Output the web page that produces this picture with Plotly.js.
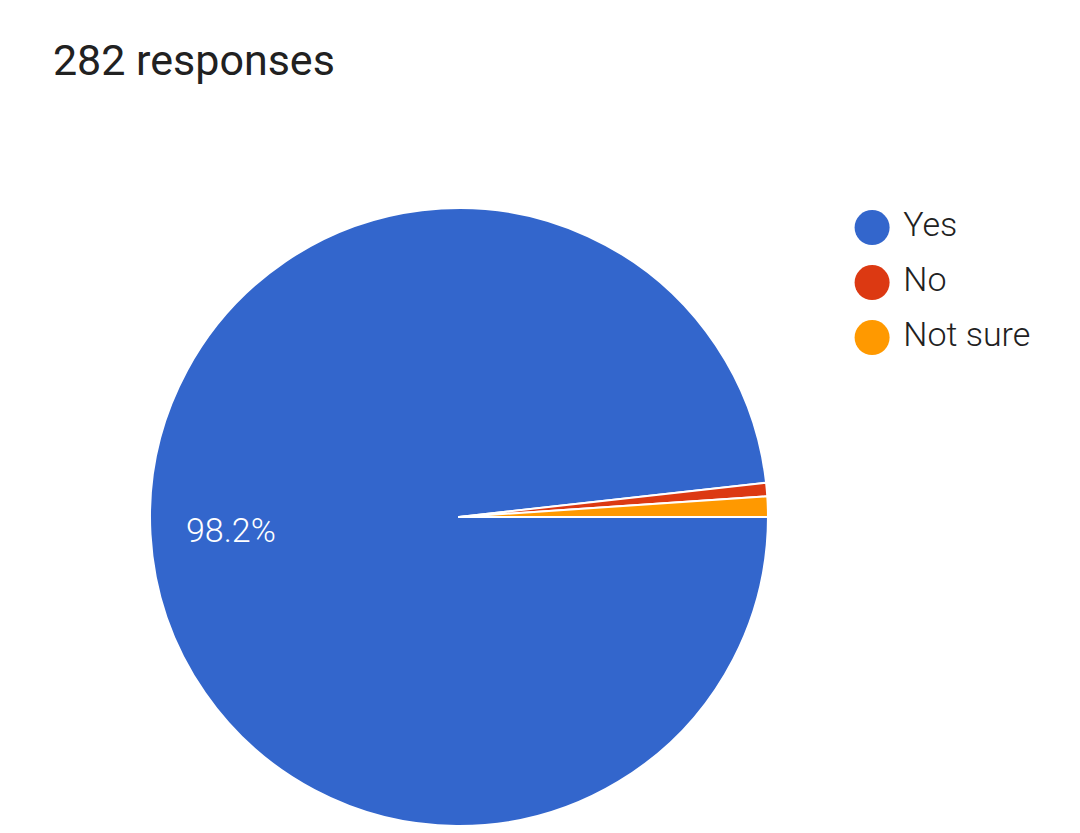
<!DOCTYPE html>
<html><head><meta charset="utf-8">
<script src="https://cdn.plot.ly/plotly-3.0.1.min.js"></script>
<style>html,body{margin:0;padding:0;background:#fff;}#chart{width:1080px;height:833px;}</style>
</head><body><div id="chart"></div>
<script>
const categories = ["Yes", "No", "Not sure"];
const counts = [277, 2, 3];
const colors = ["#3366cc", "#dc3912", "#ff9900"];
const titleText = "282 responses";

const total = counts.reduce((a, b) => a + b, 0);
const yesLabel = (counts[0] / total * 100).toFixed(1) + "%";

const pie = {
  type: "pie",
  labels: categories,
  values: counts,
  sort: false,
  direction: "clockwise",
  rotation: 90,
  marker: {colors: colors, line: {color: "#ffffff", width: 2}},
  textinfo: "none",
  domain: {x: [0.1389, 0.7111], y: [0.0072, 0.7515]},
  showlegend: false,
  hoverinfo: "label+percent"
};

const legendTrace = {
  type: "scatter",
  mode: "markers+text",
  x: categories.map(() => 0),
  y: categories.map((c, i) => categories.length - 1 - i),
  text: categories.map(c => " " + c),
  textposition: "middle right",
  textfont: {family: "Roboto", size: 34, color: "#212121", weight: 300},
  marker: {size: 35, color: colors, symbol: "circle"},
  cliponaxis: false,
  showlegend: false,
  hoverinfo: "skip",
  xaxis: "x", yaxis: "y"
};

const layout = {
  width: 1080, height: 833,
  margin: {l: 0, r: 0, t: 0, b: 0},
  paper_bgcolor: "#ffffff", plot_bgcolor: "rgba(0,0,0,0)",
  font: {family: "Roboto", color: "#212121"},
  title: {text: titleText, x: 0.049, xanchor: "left", y: 0.928, yanchor: "middle",
          font: {family: "Roboto", size: 43, color: "#212121", weight: 400}},
  showlegend: false,
  xaxis: {domain: [0.78, 1], range: [-0.125, 0.875], visible: false, fixedrange: true},
  yaxis: {domain: [0.5618, 0.7599], range: [-0.5, 2.5], visible: false, fixedrange: true},
  annotations: [{
    text: yesLabel, xref: "paper", yref: "paper", x: 0.2139, y: 0.3637,
    xanchor: "center", yanchor: "middle", showarrow: false,
    font: {family: "Roboto", size: 34, color: "#ffffff", weight: 300}
  }]
};

Plotly.newPlot("chart", [pie, legendTrace], layout, {displayModeBar: false, staticPlot: true});
</script></body></html>
